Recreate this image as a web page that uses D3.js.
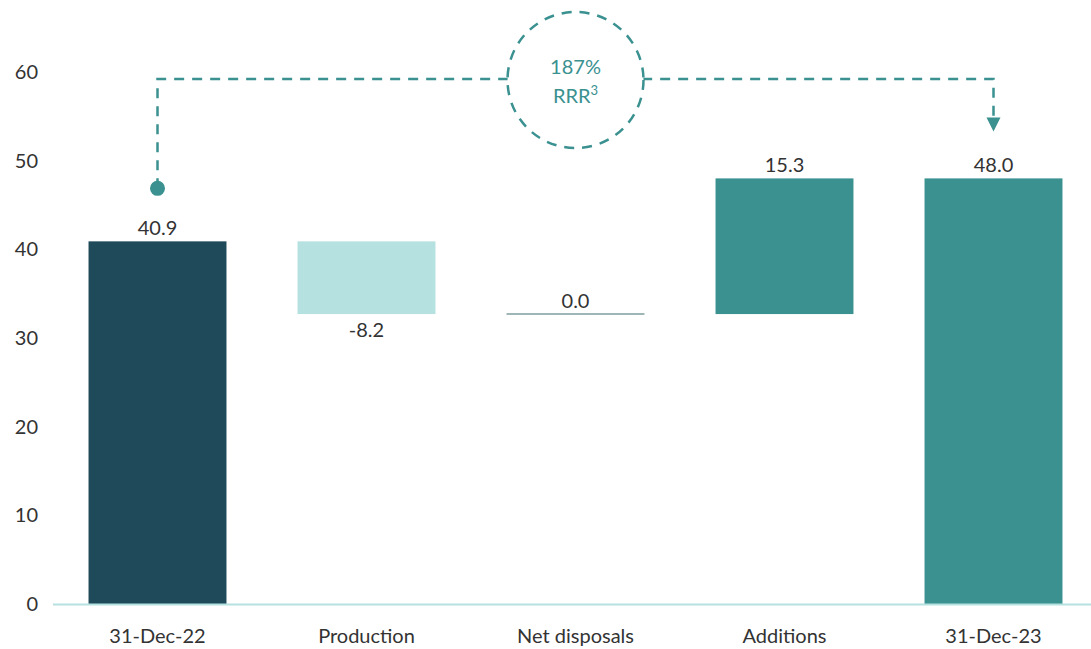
<!DOCTYPE html>
<html><head><meta charset="utf-8">
<script src="https://cdn.jsdelivr.net/npm/d3@7"></script>
<style>body{margin:0;background:#fff}svg{display:block}text{font-family:Lato,"Open Sans",sans-serif}</style>
</head><body>
<svg id="c" width="1091" height="649"></svg>
<script>
const categories = ["31-Dec-22","Production","Net disposals","Additions","31-Dec-23"];
const changes = [40.9, -8.2, 0.0, 15.3, 48.0];
const kinds = ["total","decrease","neutral","increase","total"];
const yTicks = [0,10,20,30,40,50,60];
const rrrLabel = ["187%","RRR"];

const colors = {total0:"#1f4a5a", decrease:"#b5e1e0", increase:"#3a9190", total:"#3a9190", neutral:"#7f9e9f"};
const FS = 20;
const svg = d3.select("#c");
const x = d3.scaleBand().domain(categories).range([53,1098]).paddingInner(0.34).paddingOuter(0.17);
const y = d3.scaleLinear().domain([0,60]).range([604,72]);
const fmt = v => (v<0?"-":"") + d3.format(".1f")(Math.abs(v));

let run = 0;
const bars = categories.map((c,i)=>{
  let y0,y1;
  if(kinds[i]==="total"){ y0=0; y1=changes[i]; run=changes[i]; }
  else { y0=run; y1=run+changes[i]; run=y1; }
  return {c, v:changes[i], kind:kinds[i], y0, y1, i};
});

const ya = svg.append("g").attr("transform","translate(38,0)")
  .call(d3.axisLeft(y).tickValues(yTicks).tickSize(0).tickPadding(0));
ya.select(".domain").remove();
ya.selectAll("text").attr("font-size",FS).attr("fill","#333").style("font-family","Lato,'Open Sans',sans-serif");

svg.selectAll("rect.bar").data(bars.filter(d=>d.kind!=="neutral")).join("rect")
  .attr("x",d=>x(d.c)).attr("width",x.bandwidth())
  .attr("y",d=>y(Math.max(d.y0,d.y1))).attr("height",d=>Math.abs(y(d.y0)-y(d.y1)))
  .attr("fill",d=>d.i===0?colors.total0:colors[d.kind]);
bars.filter(d=>d.kind==="neutral").forEach(d=>{
  svg.append("line").attr("x1",x(d.c)).attr("x2",x(d.c)+x.bandwidth())
    .attr("y1",y(d.y0)).attr("y2",y(d.y0)).attr("stroke",colors.neutral).attr("stroke-width",1.5);
});

svg.append("line").attr("x1",53).attr("x2",1091).attr("y1",y(0)+0.5).attr("y2",y(0)+0.5)
  .attr("stroke","#b5e1e0").attr("stroke-width",2);
const xa = svg.append("g").attr("transform",`translate(0,${y(0)})`)
  .call(d3.axisBottom(x).tickSize(0).tickPadding(25));
xa.select(".domain").remove();
xa.selectAll("text").attr("font-size",FS).attr("fill","#333").style("font-family","Lato,'Open Sans',sans-serif");

svg.selectAll("text.val").data(bars).join("text").attr("class","val")
  .attr("x",d=>x(d.c)+x.bandwidth()/2)
  .attr("y",d=>d.v<0 ? y(d.y1)+23 : y(Math.max(d.y0,d.y1))-6)
  .attr("text-anchor","middle").attr("font-size",FS).attr("fill","#333")
  .text(d=>fmt(d.v));

const teal = "#3a9190";
const xs = x(categories[0])+x.bandwidth()/2, xe = x(categories[4])+x.bandwidth()/2;
const yTop = 79;
svg.append("path").attr("d",`M${xs},${y(40.9)-53}V${yTop}H${xe}V${y(48)-56}`)
  .attr("fill","none").attr("stroke",teal).attr("stroke-width",2.5).attr("stroke-dasharray","10,8");
svg.append("circle").attr("cx",xs).attr("cy",y(40.9)-53).attr("r",7.5).attr("fill",teal);
const ay = y(48)-47;
svg.append("path").attr("d",`M${xe-7},${ay-14}L${xe+7},${ay-14}L${xe},${ay}Z`).attr("fill",teal);
const cx = x(categories[2])+x.bandwidth()/2;
svg.append("circle").attr("cx",cx).attr("cy",80).attr("r",68).attr("fill","#fff")
  .attr("stroke",teal).attr("stroke-width",2.5).attr("stroke-dasharray","10,8");
svg.append("text").attr("x",cx).attr("y",74).attr("text-anchor","middle").attr("font-size",FS).attr("fill",teal).text(rrrLabel[0]);
const t2 = svg.append("text").attr("x",cx).attr("y",103).attr("text-anchor","middle").attr("font-size",FS).attr("fill",teal).text(rrrLabel[1]);
t2.append("tspan").attr("font-size",13).attr("dy",-8).text("3");
</script>
</body></html>
